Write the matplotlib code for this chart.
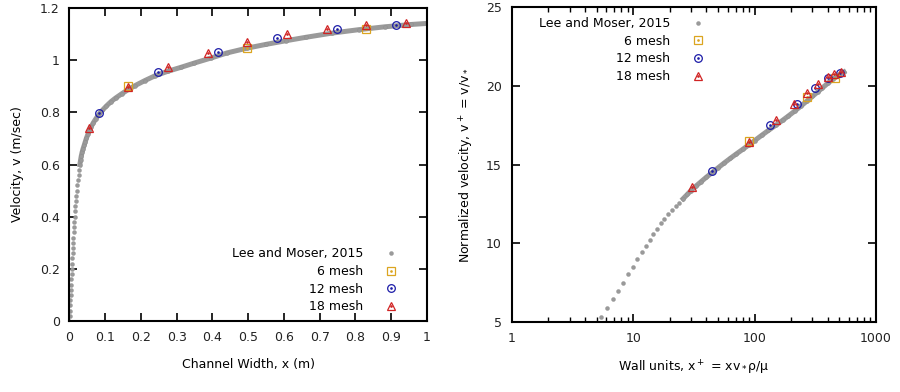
import numpy as np
import matplotlib
matplotlib.use('Agg')
import matplotlib.pyplot as plt
from matplotlib.ticker import MultipleLocator, FuncFormatter, NullFormatter, LogLocator


# Lee and Moser (2015), channel width (m) / velocity (m/sec)
lm_x = [0.0, 0.00067, 0.00135, 0.00202, 0.0027, 0.00338, 0.00406, 0.00474, 0.00544,
        0.00614, 0.00686, 0.00759, 0.00833, 0.00892, 0.0096, 0.0103, 0.0112, 0.0120,
        0.0129, 0.0138, 0.0148, 0.0157, 0.0168, 0.0179, 0.0191, 0.0204, 0.0219,
        0.0235, 0.0253, 0.0270, 0.0290,
        0.0309, 0.0329, 0.0353, 0.0381, 0.0412, 0.0441, 0.0474, 0.0515, 0.0551,
        0.0607, 0.0662, 0.0735, 0.0827, 0.0919, 0.103, 0.116, 0.129, 0.147, 0.165,
        0.184, 0.211, 0.239, 0.276, 0.3125, 0.349, 0.395, 0.441, 0.496, 0.551,
        0.607, 0.662, 0.735, 0.809, 0.882, 0.956, 1.0]
lm_v = [0.0, 0.02, 0.04, 0.06, 0.08, 0.10, 0.12, 0.14, 0.16, 0.18, 0.20, 0.22, 0.24,
        0.26, 0.28, 0.30, 0.32, 0.34, 0.36, 0.38, 0.40, 0.42, 0.44, 0.46, 0.48, 0.50,
        0.52, 0.54, 0.56, 0.58, 0.60,
        0.616, 0.632, 0.647, 0.661, 0.674, 0.687, 0.701, 0.716, 0.729,
        0.745, 0.759, 0.775, 0.793, 0.808, 0.824, 0.841, 0.855, 0.872, 0.888,
        0.903, 0.922, 0.940, 0.958, 0.973, 0.989, 1.008, 1.028, 1.046, 1.061,
        1.075, 1.088, 1.104, 1.117, 1.128, 1.137, 1.141]

# Lee and Moser (2015), wall units
lm_xp = [5.43, 6.12, 6.86, 7.54, 8.29, 9.12, 10.0, 10.8, 11.9, 12.8, 13.7, 14.6,
         15.7, 16.8, 17.9, 19.2, 20.7, 22.4, 24.0, 25.8, 28, 30, 33, 36, 40, 45,
         50, 56, 63, 70, 80, 90, 100, 115, 130, 150, 170, 190, 215, 240, 270,
         300, 330, 360, 400, 440, 480, 520, 544]
lm_vp = [5.34, 5.90, 6.47, 7.00, 7.50, 8.05, 8.49, 9.01, 9.43, 9.83, 10.23, 10.59,
         10.92, 11.28, 11.58, 11.85, 12.10, 12.35, 12.58, 12.84, 13.12, 13.36,
         13.65, 13.90, 14.20, 14.52, 14.80, 15.10, 15.40, 15.66, 15.98, 16.27,
         16.53, 16.88, 17.18, 17.52, 17.82, 18.10, 18.42, 18.72, 19.05, 19.35,
         19.62, 19.87, 20.17, 20.43, 20.64, 20.82, 20.90]

# mesh results
m6_x = [0.164, 0.497, 0.829]
m6_v = [0.902, 1.048, 1.118]
m12_x = [0.083, 0.248, 0.416, 0.581, 0.748, 0.913]
m12_v = [0.796, 0.954, 1.030, 1.084, 1.118, 1.135]
m18_x = [0.055, 0.164, 0.276, 0.388, 0.497, 0.609, 0.719, 0.829, 0.941]
m18_v = [0.739, 0.896, 0.975, 1.029, 1.069, 1.102, 1.120, 1.135, 1.144]

m6_xp = [90, 271, 458]
m6_vp = [16.51, 19.28, 20.54]
m12_xp = [44.5, 133.6, 223, 313, 403, 504]
m12_vp = [14.60, 17.52, 18.88, 19.87, 20.50, 20.81]
m18_xp = [30.3, 90, 150, 212, 268, 334, 405, 452, 520]
m18_vp = [13.61, 16.45, 17.83, 18.86, 19.53, 20.12, 20.55, 20.79, 20.92]

labels = ['Lee and Moser, 2015', '6 mesh', '12 mesh', '18 mesh']

gray = '#9a9a9a'
c6 = '#dba520'
c12 = '#1c1ca8'
c18 = '#d02424'
fs = 9


def style(ax):
    for s in ax.spines.values():
        s.set_linewidth(1.5)
    ax.tick_params(which='both', direction='in', top=True, right=True,
                   labelsize=fs, labelcolor='#222222')
    ax.tick_params(which='major', length=6, width=1.2)
    ax.tick_params(which='minor', length=3.5, width=1.0)
    ax.tick_params(axis='x', pad=7)
    ax.tick_params(axis='y', pad=7)


def draw(ax, x, v, dense, sets):
    x = np.array(x)
    v = np.array(v)
    ax.plot(x[dense], v[dense], '-', color=gray, lw=3.6, zorder=2)
    h_lm, = ax.plot(x, v, 'o', color=gray, ms=2.8, mec='#8a8a8a', mew=0.3, zorder=2)
    handles = [h_lm]
    for (xs, vs, mk, c) in sets:
        h, = ax.plot(xs, vs, mk, ms=5.5, mfc='none', mec=c, mew=0.9, zorder=3)
        hd, = ax.plot(xs, vs, '.', ms=1.8, color=c, zorder=3)
        handles.append((h, hd))
    return handles


fig = plt.figure(figsize=(9, 3.92), dpi=100)
ax1 = fig.add_axes([0.0772, 0.181, 0.3972, 0.7985])
ax2 = fig.add_axes([0.5686, 0.1786, 0.4047, 0.8024])

# left: physical units
hs = draw(ax1, lm_x, lm_v, np.array(lm_v) >= 0.6,
          [(m6_x, m6_v, 's', c6), (m12_x, m12_v, 'o', c12), (m18_x, m18_v, '^', c18)])
ax1.set_xlim(0, 1)
ax1.set_ylim(0, 1.2)
ax1.xaxis.set_major_locator(MultipleLocator(0.1))
ax1.yaxis.set_major_locator(MultipleLocator(0.2))
fmt = FuncFormatter(lambda val, p: '%g' % round(val, 3))
ax1.xaxis.set_major_formatter(fmt)
ax1.yaxis.set_major_formatter(fmt)
style(ax1)
ax1.set_xlabel('Channel Width, x (m)', fontsize=fs, labelpad=10)
ax1.set_ylabel('Velocity, v (m/sec)', fontsize=fs, labelpad=11)
ax1.legend(hs, labels, loc='lower right', bbox_to_anchor=(0.947, 0.025),
           frameon=False, markerfirst=False, fontsize=fs, handlelength=2.7,
           handletextpad=0.9, labelspacing=0.37, borderpad=0, borderaxespad=0)

# right: wall units
hs = draw(ax2, lm_xp, lm_vp, np.array(lm_xp) >= 25.8,
          [(m6_xp, m6_vp, 's', c6), (m12_xp, m12_vp, 'o', c12), (m18_xp, m18_vp, '^', c18)])
ax2.set_xscale('log')
ax2.set_xlim(1, 1000)
ax2.set_ylim(5, 25)
ax2.xaxis.set_major_locator(LogLocator(base=10))
ax2.xaxis.set_minor_locator(LogLocator(base=10, subs=np.arange(2, 10)))
ax2.xaxis.set_major_formatter(FuncFormatter(lambda val, p: '%g' % val))
ax2.xaxis.set_minor_formatter(NullFormatter())
ax2.yaxis.set_major_locator(MultipleLocator(5))
style(ax2)
ax2.set_xlabel(r'Wall units, x$\mathregular{^+}$ = xv$\mathregular{_*}$ρ/μ', fontsize=fs, labelpad=10)
ax2.set_ylabel(r'Normalized velocity, v$\mathregular{^+}$ = v/v$\mathregular{_*}$', fontsize=fs, labelpad=7)
ax2.legend(hs, labels, loc='upper right', bbox_to_anchor=(0.559, 0.969),
           frameon=False, markerfirst=False, fontsize=fs, handlelength=2.7,
           handletextpad=0.9, labelspacing=0.37, borderpad=0, borderaxespad=0)

fig.savefig('out.png', dpi=100)
